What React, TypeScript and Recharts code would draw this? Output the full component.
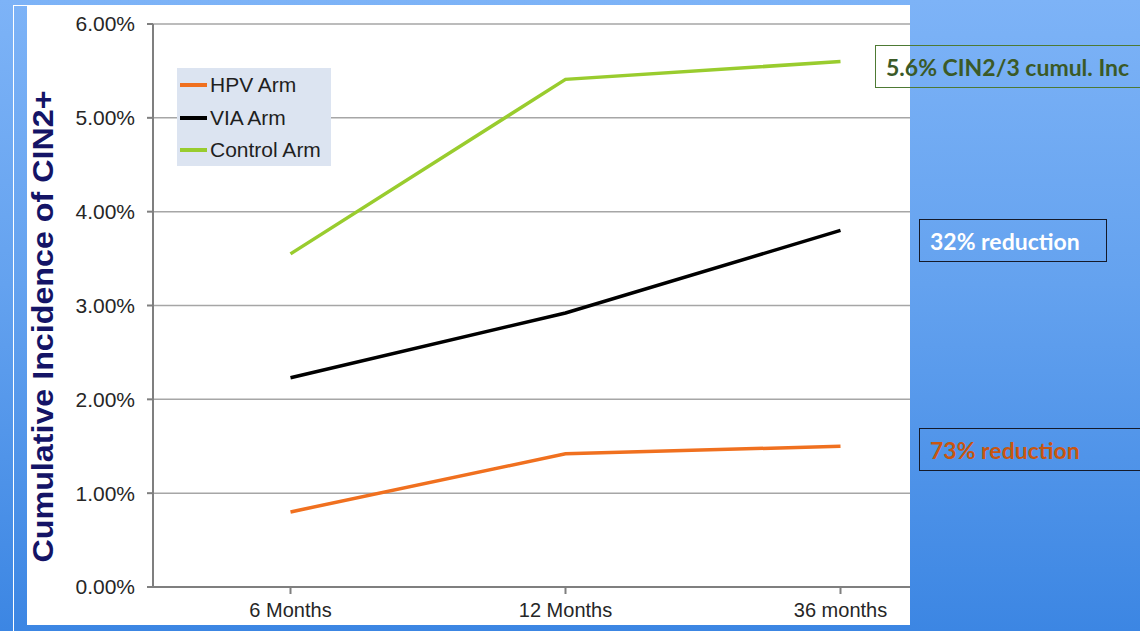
import React from "react";
import { CartesianGrid, Line, LineChart, XAxis, YAxis } from "recharts";

const periods = ["6 Months", "12 Months", "36 months"];
const hpvArm = [0.8, 1.42, 1.5];
const viaArm = [2.23, 2.92, 3.8];
const controlArm = [3.55, 5.41, 5.6];
const yTicks = [0, 1, 2, 3, 4, 5, 6];

const data = periods.map((period, i) => ({
  period,
  hpv: hpvArm[i],
  via: viaArm[i],
  control: controlArm[i],
}));

// series in legend order
const arms = [
  { key: "hpv", name: "HPV Arm", color: "#f0701f" },
  { key: "via", name: "VIA Arm", color: "#000000" },
  { key: "control", name: "Control Arm", color: "#99cc2e" },
];

const last = periods.length - 1;
const controlFinal = controlArm[last];
const viaReduction = Math.round((1 - viaArm[last] / controlFinal) * 100);
const hpvReduction = Math.round((1 - hpvArm[last] / controlFinal) * 100);

const AXIS_FONT = "'Liberation Sans', Arial, sans-serif";
const NOTE_FONT = "Lato, 'Open Sans', sans-serif";

function ArmLegend() {
  return (
    <div
      style={{
        position: "absolute",
        left: 150,
        top: 63,
        background: "#dce4f1",
        width: 154,
        height: 98,
        paddingTop: 1,
        boxSizing: "border-box",
        fontFamily: AXIS_FONT,
        fontSize: 21,
        color: "#1f1f1f",
      }}
    >
      {arms.map((arm) => (
        <div key={arm.key} style={{ display: "flex", alignItems: "center", height: 32.5 }}>
          <span style={{ display: "inline-block", width: 27, height: 4, marginLeft: 3, marginRight: 3, background: arm.color }} />
          <span>{arm.name}</span>
        </div>
      ))}
    </div>
  );
}

function AxisTitle({ viewBox }: any) {
  const x = viewBox.x + 26;
  const y = viewBox.y + viewBox.height / 2 + 21;
  return (
    <text
      x={x}
      y={y}
      transform={`rotate(-90, ${x}, ${y})`}
      textAnchor="middle"
      fill="#141466"
      fontFamily={AXIS_FONT}
      fontWeight="bold"
      fontSize={30}
      textLength={472}
      lengthAdjust="spacingAndGlyphs"
    >
      Cumulative Incidence of CIN2+
    </text>
  );
}

const noteBox: React.CSSProperties = {
  position: "absolute",
  boxSizing: "border-box",
  height: 43,
  paddingLeft: 10,
  display: "flex",
  alignItems: "center",
  fontFamily: NOTE_FONT,
  fontWeight: "bold",
  fontSize: 23,
  whiteSpace: "nowrap",
};

export default function App() {
  return (
    <div
      style={{
        position: "absolute",
        top: 0,
        left: 0,
        width: 1140,
        height: 631,
        overflow: "hidden",
        background: "linear-gradient(180deg, #7db3f7 0%, #64a2ef 45%, #3c86e3 100%)",
      }}
    >
      <div style={{ position: "absolute", left: 13, top: 5, width: 20, height: 640, borderLeft: "1.5px solid #ffffff", borderTop: "1.5px solid #ffffff" }} />
      <div style={{ position: "absolute", left: 27, top: 5, width: 883, height: 620, background: "#ffffff", overflow: "hidden" }}>
        <LineChart width={960} height={620} data={data} margin={{ top: 19, right: 9, left: 0, bottom: 0 }}>
          <CartesianGrid vertical={false} stroke="#a6a6a6" strokeWidth={1.5} />
          <XAxis
            dataKey="period"
            height={38}
            padding={{ left: 137.5, right: 137.5 }}
            stroke="#7f7f7f"
            strokeWidth={2}
            tickSize={7}
            tickMargin={9}
            tick={{ fill: "#262626", fontSize: 20, fontFamily: AXIS_FONT }}
          />
          <YAxis
            width={126}
            domain={[0, 6]}
            ticks={yTicks}
            stroke="#7f7f7f"
            strokeWidth={2}
            tickSize={6}
            tickMargin={12}
            tickFormatter={(v: number) => `${v.toFixed(2)}%`}
            tick={{ fill: "#262626", fontSize: 21, fontFamily: AXIS_FONT }}
            label={<AxisTitle />}
          />
          {arms.map((arm) => (
            <Line
              key={arm.key}
              dataKey={arm.key}
              name={arm.name}
              stroke={arm.color}
              strokeWidth={3.5}
              dot={false}
              isAnimationActive={false}
            />
          ))}
        </LineChart>
        <ArmLegend />
      </div>
      <div style={{ ...noteBox, left: 875, top: 45, width: 290, border: "1.5px solid #4e7a34", color: "#3b5a27" }}>
        {`${controlFinal}% CIN2/3 cumul. Inc`}
      </div>
      <div style={{ ...noteBox, left: 919, top: 219, width: 188, border: "1.5px solid #141a2a", color: "#ffffff" }}>
        {`${viaReduction}% reduction`}
      </div>
      <div style={{ ...noteBox, left: 919, top: 428, width: 240, border: "1.5px solid #141a2a", color: "#c9560f" }}>
        {`${hpvReduction}% reduction`}
      </div>
    </div>
  );
}
